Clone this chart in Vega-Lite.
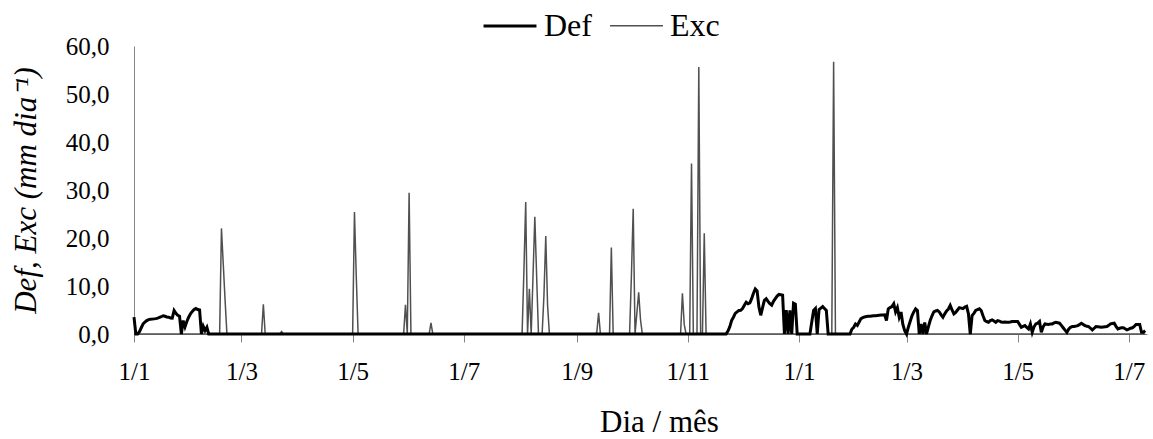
{
  "$schema": "https://vega.github.io/schema/vega-lite/v6.json",
  "autosize": "none",
  "padding": {"left": 134, "top": 46, "right": 6, "bottom": 105},
  "width": 1013,
  "height": 288,
  "background": "white",
  "config": {"view": {"stroke": null}, "font": "Liberation Serif"},
  "data": {"values": [
    {"d":"2009-01-01","s":"Def","v":3.5},{"d":"2009-01-02","s":"Def","v":0},{"d":"2009-01-03","s":"Def","v":0},{"d":"2009-01-04","s":"Def","v":0.5},{"d":"2009-01-05","s":"Def","v":1.3},{"d":"2009-01-06","s":"Def","v":2.1},{"d":"2009-01-07","s":"Def","v":2.5},{"d":"2009-01-08","s":"Def","v":2.8},{"d":"2009-01-09","s":"Def","v":3.0},{"d":"2009-01-10","s":"Def","v":3.05},{"d":"2009-01-11","s":"Def","v":3.1},{"d":"2009-01-12","s":"Def","v":3.15},{"d":"2009-01-13","s":"Def","v":3.2},{"d":"2009-01-14","s":"Def","v":3.3},{"d":"2009-01-15","s":"Def","v":3.45},{"d":"2009-01-16","s":"Def","v":3.6},{"d":"2009-01-17","s":"Def","v":3.8},{"d":"2009-01-18","s":"Def","v":3.7},{"d":"2009-01-19","s":"Def","v":3.55},{"d":"2009-01-20","s":"Def","v":3.5},{"d":"2009-01-21","s":"Def","v":3.35},{"d":"2009-01-22","s":"Def","v":3.3},{"d":"2009-01-23","s":"Def","v":4.9},{"d":"2009-01-24","s":"Def","v":4.3},{"d":"2009-01-25","s":"Def","v":3.9},{"d":"2009-01-26","s":"Def","v":3.7},{"d":"2009-01-27","s":"Def","v":0},{"d":"2009-01-28","s":"Def","v":2.8},{"d":"2009-01-29","s":"Def","v":1.5},{"d":"2009-01-30","s":"Def","v":2.6},{"d":"2009-01-31","s":"Def","v":3.5},{"d":"2009-02-01","s":"Def","v":4.2},{"d":"2009-02-02","s":"Def","v":4.7},{"d":"2009-02-03","s":"Def","v":5.1},{"d":"2009-02-04","s":"Def","v":5.3},{"d":"2009-02-05","s":"Def","v":5.1},{"d":"2009-02-06","s":"Def","v":5.0},{"d":"2009-02-07","s":"Def","v":0},{"d":"2009-02-08","s":"Def","v":1.6},{"d":"2009-02-09","s":"Def","v":0.7},{"d":"2009-02-10","s":"Def","v":1.4},{"d":"2009-02-11","s":"Def","v":0},
    {"d":"2009-11-22","s":"Def","v":0},{"d":"2009-11-23","s":"Def","v":0.6},{"d":"2009-11-24","s":"Def","v":1.5},{"d":"2009-11-25","s":"Def","v":2.8},{"d":"2009-11-26","s":"Def","v":3.5},{"d":"2009-11-27","s":"Def","v":4.3},{"d":"2009-11-28","s":"Def","v":4.6},{"d":"2009-11-29","s":"Def","v":4.9},{"d":"2009-11-30","s":"Def","v":4.95},{"d":"2009-12-01","s":"Def","v":5.3},{"d":"2009-12-02","s":"Def","v":6.0},{"d":"2009-12-03","s":"Def","v":6.6},{"d":"2009-12-04","s":"Def","v":6.3},{"d":"2009-12-05","s":"Def","v":6.5},{"d":"2009-12-06","s":"Def","v":7.35},{"d":"2009-12-07","s":"Def","v":8.5},{"d":"2009-12-08","s":"Def","v":9.4},{"d":"2009-12-09","s":"Def","v":9.0},{"d":"2009-12-10","s":"Def","v":5.6},{"d":"2009-12-11","s":"Def","v":3.9},{"d":"2009-12-12","s":"Def","v":5.5},{"d":"2009-12-13","s":"Def","v":7.0},{"d":"2009-12-14","s":"Def","v":7.35},{"d":"2009-12-15","s":"Def","v":6.8},{"d":"2009-12-16","s":"Def","v":6.3},{"d":"2009-12-17","s":"Def","v":6.0},{"d":"2009-12-18","s":"Def","v":6.8},{"d":"2009-12-19","s":"Def","v":7.35},{"d":"2009-12-20","s":"Def","v":7.9},{"d":"2009-12-21","s":"Def","v":8.25},{"d":"2009-12-22","s":"Def","v":8.2},{"d":"2009-12-23","s":"Def","v":8.1},{"d":"2009-12-24","s":"Def","v":0},{"d":"2009-12-25","s":"Def","v":5.0},{"d":"2009-12-26","s":"Def","v":0},{"d":"2009-12-27","s":"Def","v":4.9},{"d":"2009-12-28","s":"Def","v":0},{"d":"2009-12-29","s":"Def","v":6.4},{"d":"2009-12-30","s":"Def","v":6.2},{"d":"2009-12-31","s":"Def","v":0},
    {"d":"2010-01-06","s":"Def","v":0},{"d":"2010-01-07","s":"Def","v":0},{"d":"2010-01-08","s":"Def","v":2.5},{"d":"2010-01-09","s":"Def","v":4.9},{"d":"2010-01-10","s":"Def","v":5.3},{"d":"2010-01-11","s":"Def","v":0},{"d":"2010-01-12","s":"Def","v":5.1},{"d":"2010-01-13","s":"Def","v":5.4},{"d":"2010-01-14","s":"Def","v":5.7},{"d":"2010-01-15","s":"Def","v":5.3},{"d":"2010-01-16","s":"Def","v":4.9},{"d":"2010-01-17","s":"Def","v":0},
    {"d":"2010-01-29","s":"Def","v":0},{"d":"2010-01-30","s":"Def","v":1.0},{"d":"2010-01-31","s":"Def","v":1.4},{"d":"2010-02-01","s":"Def","v":2.1},{"d":"2010-02-02","s":"Def","v":1.8},{"d":"2010-02-03","s":"Def","v":2.5},{"d":"2010-02-04","s":"Def","v":3.2},{"d":"2010-02-05","s":"Def","v":3.4},{"d":"2010-02-06","s":"Def","v":3.55},{"d":"2010-02-07","s":"Def","v":3.65},{"d":"2010-02-08","s":"Def","v":3.7},{"d":"2010-02-09","s":"Def","v":3.7},{"d":"2010-02-10","s":"Def","v":3.75},{"d":"2010-02-11","s":"Def","v":3.8},{"d":"2010-02-12","s":"Def","v":3.8},{"d":"2010-02-13","s":"Def","v":3.85},{"d":"2010-02-14","s":"Def","v":3.9},{"d":"2010-02-15","s":"Def","v":3.95},{"d":"2010-02-16","s":"Def","v":3.95},{"d":"2010-02-17","s":"Def","v":4.0},{"d":"2010-02-18","s":"Def","v":2.8},{"d":"2010-02-19","s":"Def","v":5.25},{"d":"2010-02-20","s":"Def","v":5.5},{"d":"2010-02-21","s":"Def","v":5.7},{"d":"2010-02-22","s":"Def","v":6.3},{"d":"2010-02-23","s":"Def","v":4.6},{"d":"2010-02-24","s":"Def","v":5.5},{"d":"2010-02-25","s":"Def","v":3.5},{"d":"2010-02-26","s":"Def","v":4.6},{"d":"2010-02-27","s":"Def","v":2.0},{"d":"2010-02-28","s":"Def","v":0.7},
    {"d":"2010-03-01","s":"Def","v":0},{"d":"2010-03-02","s":"Def","v":1.4},{"d":"2010-03-03","s":"Def","v":2.6},{"d":"2010-03-04","s":"Def","v":3.8},{"d":"2010-03-05","s":"Def","v":4.6},{"d":"2010-03-06","s":"Def","v":5.25},{"d":"2010-03-07","s":"Def","v":4.9},{"d":"2010-03-08","s":"Def","v":0},{"d":"2010-03-09","s":"Def","v":2.1},{"d":"2010-03-10","s":"Def","v":0},{"d":"2010-03-11","s":"Def","v":2.4},{"d":"2010-03-12","s":"Def","v":0},{"d":"2010-03-13","s":"Def","v":1.5},{"d":"2010-03-14","s":"Def","v":2.8},{"d":"2010-03-15","s":"Def","v":3.8},{"d":"2010-03-16","s":"Def","v":4.6},{"d":"2010-03-17","s":"Def","v":4.8},{"d":"2010-03-18","s":"Def","v":4.9},{"d":"2010-03-19","s":"Def","v":4.6},{"d":"2010-03-20","s":"Def","v":4.0},{"d":"2010-03-21","s":"Def","v":3.5},{"d":"2010-03-22","s":"Def","v":4.2},{"d":"2010-03-23","s":"Def","v":4.8},{"d":"2010-03-24","s":"Def","v":5.2},{"d":"2010-03-25","s":"Def","v":5.95},{"d":"2010-03-26","s":"Def","v":5.0},{"d":"2010-03-27","s":"Def","v":4.2},{"d":"2010-03-28","s":"Def","v":4.5},{"d":"2010-03-29","s":"Def","v":5.0},{"d":"2010-03-30","s":"Def","v":5.5},{"d":"2010-03-31","s":"Def","v":5.4},
    {"d":"2010-04-01","s":"Def","v":5.3},{"d":"2010-04-02","s":"Def","v":5.6},{"d":"2010-04-03","s":"Def","v":5.75},{"d":"2010-04-04","s":"Def","v":4.2},{"d":"2010-04-05","s":"Def","v":0},{"d":"2010-04-06","s":"Def","v":3.85},{"d":"2010-04-07","s":"Def","v":4.3},{"d":"2010-04-08","s":"Def","v":4.9},{"d":"2010-04-09","s":"Def","v":5.1},{"d":"2010-04-10","s":"Def","v":5.25},{"d":"2010-04-11","s":"Def","v":4.9},{"d":"2010-04-12","s":"Def","v":3.8},{"d":"2010-04-13","s":"Def","v":2.8},{"d":"2010-04-14","s":"Def","v":2.6},{"d":"2010-04-15","s":"Def","v":2.45},{"d":"2010-04-16","s":"Def","v":2.8},{"d":"2010-04-17","s":"Def","v":2.95},{"d":"2010-04-18","s":"Def","v":2.7},{"d":"2010-04-19","s":"Def","v":2.45},{"d":"2010-04-20","s":"Def","v":2.8},{"d":"2010-04-21","s":"Def","v":2.7},{"d":"2010-04-22","s":"Def","v":2.5},{"d":"2010-04-23","s":"Def","v":2.45},{"d":"2010-04-24","s":"Def","v":2.5},{"d":"2010-04-25","s":"Def","v":2.45},{"d":"2010-04-26","s":"Def","v":2.45},{"d":"2010-04-27","s":"Def","v":2.5},{"d":"2010-04-28","s":"Def","v":2.6},{"d":"2010-04-29","s":"Def","v":2.6},{"d":"2010-04-30","s":"Def","v":2.6},
    {"d":"2010-05-01","s":"Def","v":2.6},{"d":"2010-05-02","s":"Def","v":2.0},{"d":"2010-05-03","s":"Def","v":1.4},{"d":"2010-05-04","s":"Def","v":1.6},{"d":"2010-05-05","s":"Def","v":1.75},{"d":"2010-05-06","s":"Def","v":1.4},{"d":"2010-05-07","s":"Def","v":1.05},{"d":"2010-05-08","s":"Def","v":2.1},{"d":"2010-05-09","s":"Def","v":0.35},{"d":"2010-05-10","s":"Def","v":1.5},{"d":"2010-05-11","s":"Def","v":2.1},{"d":"2010-05-12","s":"Def","v":2.25},{"d":"2010-05-13","s":"Def","v":2.6},{"d":"2010-05-14","s":"Def","v":0.35},{"d":"2010-05-15","s":"Def","v":1.5},{"d":"2010-05-16","s":"Def","v":2.1},{"d":"2010-05-17","s":"Def","v":2.05},{"d":"2010-05-18","s":"Def","v":2.0},{"d":"2010-05-19","s":"Def","v":2.1},{"d":"2010-05-20","s":"Def","v":2.1},{"d":"2010-05-21","s":"Def","v":2.3},{"d":"2010-05-22","s":"Def","v":2.45},{"d":"2010-05-23","s":"Def","v":2.35},{"d":"2010-05-24","s":"Def","v":2.25},{"d":"2010-05-25","s":"Def","v":1.8},{"d":"2010-05-26","s":"Def","v":1.3},{"d":"2010-05-27","s":"Def","v":0.8},{"d":"2010-05-28","s":"Def","v":0.35},{"d":"2010-05-29","s":"Def","v":1.0},{"d":"2010-05-30","s":"Def","v":1.4},{"d":"2010-05-31","s":"Def","v":1.55},
    {"d":"2010-06-01","s":"Def","v":1.55},{"d":"2010-06-02","s":"Def","v":1.65},{"d":"2010-06-03","s":"Def","v":1.75},{"d":"2010-06-04","s":"Def","v":2.0},{"d":"2010-06-05","s":"Def","v":2.25},{"d":"2010-06-06","s":"Def","v":2.0},{"d":"2010-06-07","s":"Def","v":1.75},{"d":"2010-06-08","s":"Def","v":1.6},{"d":"2010-06-09","s":"Def","v":1.55},{"d":"2010-06-10","s":"Def","v":1.2},{"d":"2010-06-11","s":"Def","v":0.85},{"d":"2010-06-12","s":"Def","v":1.2},{"d":"2010-06-13","s":"Def","v":1.55},{"d":"2010-06-14","s":"Def","v":1.5},{"d":"2010-06-15","s":"Def","v":1.45},{"d":"2010-06-16","s":"Def","v":1.4},{"d":"2010-06-17","s":"Def","v":1.45},{"d":"2010-06-18","s":"Def","v":1.5},{"d":"2010-06-19","s":"Def","v":1.55},{"d":"2010-06-20","s":"Def","v":1.8},{"d":"2010-06-21","s":"Def","v":2.1},{"d":"2010-06-22","s":"Def","v":2.2},{"d":"2010-06-23","s":"Def","v":2.25},{"d":"2010-06-24","s":"Def","v":1.6},{"d":"2010-06-25","s":"Def","v":1.05},{"d":"2010-06-26","s":"Def","v":1.2},{"d":"2010-06-27","s":"Def","v":1.3},{"d":"2010-06-28","s":"Def","v":1.3},{"d":"2010-06-29","s":"Def","v":1.1},{"d":"2010-06-30","s":"Def","v":0.85},
    {"d":"2010-07-01","s":"Def","v":1.0},{"d":"2010-07-02","s":"Def","v":1.2},{"d":"2010-07-03","s":"Def","v":1.3},{"d":"2010-07-04","s":"Def","v":1.6},{"d":"2010-07-05","s":"Def","v":2.0},{"d":"2010-07-06","s":"Def","v":2.0},{"d":"2010-07-07","s":"Def","v":2.0},{"d":"2010-07-08","s":"Def","v":0.35},{"d":"2010-07-09","s":"Def","v":0.35},{"d":"2010-07-10","s":"Def","v":0.7},
    {"d":"2009-01-01","s":"Exc","v":0},{"d":"2009-02-17","s":"Exc","v":0},{"d":"2009-02-18","s":"Exc","v":22.0},{"d":"2009-02-19","s":"Exc","v":14.5},{"d":"2009-02-20","s":"Exc","v":7.0},{"d":"2009-02-21","s":"Exc","v":0},
    {"d":"2009-03-12","s":"Exc","v":0},{"d":"2009-03-13","s":"Exc","v":6.2},{"d":"2009-03-14","s":"Exc","v":0},{"d":"2009-03-22","s":"Exc","v":0},{"d":"2009-03-23","s":"Exc","v":0.5},{"d":"2009-03-24","s":"Exc","v":0},
    {"d":"2009-05-01","s":"Exc","v":0},{"d":"2009-05-02","s":"Exc","v":25.4},{"d":"2009-05-03","s":"Exc","v":12.0},{"d":"2009-05-04","s":"Exc","v":0},
    {"d":"2009-05-29","s":"Exc","v":0},{"d":"2009-05-30","s":"Exc","v":6.1},{"d":"2009-05-31","s":"Exc","v":0},{"d":"2009-06-01","s":"Exc","v":29.4},{"d":"2009-06-02","s":"Exc","v":0},
    {"d":"2009-06-12","s":"Exc","v":0},{"d":"2009-06-13","s":"Exc","v":2.3},{"d":"2009-06-14","s":"Exc","v":0},
    {"d":"2009-08-02","s":"Exc","v":0},{"d":"2009-08-03","s":"Exc","v":13.0},{"d":"2009-08-04","s":"Exc","v":27.5},{"d":"2009-08-05","s":"Exc","v":0},{"d":"2009-08-06","s":"Exc","v":9.4},{"d":"2009-08-07","s":"Exc","v":0},{"d":"2009-08-08","s":"Exc","v":12.0},{"d":"2009-08-09","s":"Exc","v":24.4},{"d":"2009-08-10","s":"Exc","v":12.0},{"d":"2009-08-11","s":"Exc","v":0},
    {"d":"2009-08-13","s":"Exc","v":0},{"d":"2009-08-14","s":"Exc","v":8.0},{"d":"2009-08-15","s":"Exc","v":20.4},{"d":"2009-08-16","s":"Exc","v":6.0},{"d":"2009-08-17","s":"Exc","v":0},
    {"d":"2009-09-11","s":"Exc","v":0},{"d":"2009-09-12","s":"Exc","v":0.3},{"d":"2009-09-13","s":"Exc","v":4.4},{"d":"2009-09-14","s":"Exc","v":0},
    {"d":"2009-09-19","s":"Exc","v":0},{"d":"2009-09-20","s":"Exc","v":18.0},{"d":"2009-09-21","s":"Exc","v":0},
    {"d":"2009-09-30","s":"Exc","v":0},{"d":"2009-10-01","s":"Exc","v":12.0},{"d":"2009-10-02","s":"Exc","v":26.1},{"d":"2009-10-03","s":"Exc","v":0},{"d":"2009-10-04","s":"Exc","v":4.3},{"d":"2009-10-05","s":"Exc","v":8.7},{"d":"2009-10-06","s":"Exc","v":3.0},{"d":"2009-10-07","s":"Exc","v":0},
    {"d":"2009-10-28","s":"Exc","v":0},{"d":"2009-10-29","s":"Exc","v":8.5},{"d":"2009-10-30","s":"Exc","v":2.0},{"d":"2009-10-31","s":"Exc","v":0},
    {"d":"2009-11-02","s":"Exc","v":0},{"d":"2009-11-03","s":"Exc","v":35.5},{"d":"2009-11-04","s":"Exc","v":0},{"d":"2009-11-06","s":"Exc","v":0},{"d":"2009-11-07","s":"Exc","v":55.6},{"d":"2009-11-08","s":"Exc","v":0},{"d":"2009-11-09","s":"Exc","v":0},{"d":"2009-11-10","s":"Exc","v":21.0},{"d":"2009-11-11","s":"Exc","v":0},
    {"d":"2010-01-19","s":"Exc","v":0},{"d":"2010-01-20","s":"Exc","v":56.7},{"d":"2010-01-21","s":"Exc","v":0},{"d":"2010-07-10","s":"Exc","v":0}
  ]},
  "encoding": {
    "x": {
      "field": "d", "type": "temporal",
      "scale": {"type": "utc", "domain": [{"year": 2009, "month": 1, "date": 1, "utc": true}, {"year": 2010, "month": 7, "date": 11, "utc": true}]},
      "axis": {
        "values": [
          {"year": 2009, "month": 1, "date": 1, "utc": true}, {"year": 2009, "month": 3, "date": 1, "utc": true},
          {"year": 2009, "month": 5, "date": 1, "utc": true}, {"year": 2009, "month": 7, "date": 1, "utc": true},
          {"year": 2009, "month": 9, "date": 1, "utc": true}, {"year": 2009, "month": 11, "date": 1, "utc": true},
          {"year": 2010, "month": 1, "date": 1, "utc": true}, {"year": 2010, "month": 3, "date": 1, "utc": true},
          {"year": 2010, "month": 5, "date": 1, "utc": true}, {"year": 2010, "month": 7, "date": 1, "utc": true}
        ],
        "labelExpr": "utcFormat(datum.value, '%-d/%-m')",
        "labelFont": "Liberation Serif", "labelFontSize": 25, "labelColor": "#000000",
        "labelPadding": 17, "labelFlush": false, "labelOverlap": false,
        "ticks": true, "tickSize": 8, "tickColor": "#868686", "tickWidth": 1,
        "domainColor": "#868686", "domainWidth": 1, "grid": false,
        "title": "Dia / mês", "titleFont": "Liberation Serif", "titleFontSize": 31, "titleFontWeight": "normal",
        "titleColor": "#000000", "titleX": 525, "titleY": 97, "titleBaseline": "alphabetic", "titleAlign": "center"
      }
    },
    "y": {
      "field": "v", "type": "quantitative",
      "scale": {"domain": [0, 60], "nice": false, "zero": true},
      "axis": {
        "values": [0, 10, 20, 30, 40, 50, 60],
        "labelExpr": "replace(format(datum.value, '.1f'), '.', ',')",
        "labelFont": "Liberation Serif", "labelFontSize": 25, "labelColor": "#000000",
        "labelPadding": 25, "ticks": false, "domainColor": "#868686", "domainWidth": 1, "grid": false,
        "title": "Def, Exc (mm dia⁻¹)", "titleFont": "Liberation Serif", "titleFontSize": 31,
        "titleFontStyle": "italic", "titleFontWeight": "normal", "titleColor": "#000000",
        "titleX": -99, "titleY": 144, "titleAngle": 270, "titleBaseline": "alphabetic", "titleAlign": "center"
      }
    },
    "color": {
      "field": "s", "type": "nominal",
      "scale": {"domain": ["Def", "Exc"], "range": ["#000000", "#505050"]},
      "legend": {
        "title": null, "orient": "none", "legendX": 348, "legendY": -48, "direction": "horizontal",
        "symbolType": "stroke", "symbolSize": 2800, "labelFont": "Liberation Serif", "labelFontSize": 32,
        "labelColor": "#000000", "labelOffset": 6, "columnPadding": 15, "padding": 0
      }
    },
    "strokeWidth": {
      "field": "s", "type": "nominal",
      "scale": {"domain": ["Def", "Exc"], "range": [3, 1.5]}
    }
  },
  "layer": [
    {"transform": [{"filter": "datum.s === 'Exc'"}], "mark": {"type": "line", "interpolate": "linear"}},
    {"transform": [{"filter": "datum.s === 'Def'"}], "mark": {"type": "line", "interpolate": "linear"}}
  ]
}
